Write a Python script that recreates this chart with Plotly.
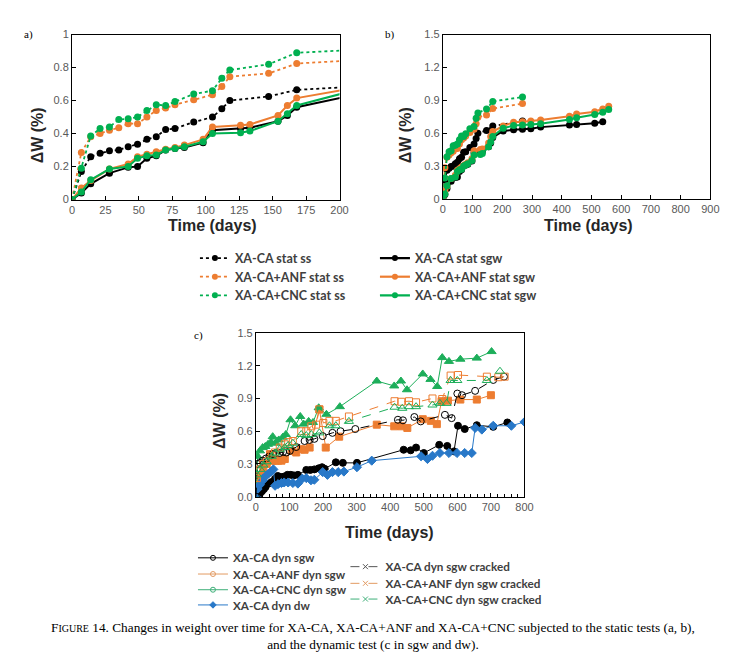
import plotly.graph_objects as go

W, H = 734, 653

# ---------------- static tests (panels a and b share the same data) ----------------
ss_days = [0, 7, 14, 21, 28, 35, 42, 49, 56, 63, 70, 77, 91, 105, 112, 118, 147, 168, 268]
xaca_stat_ss = [0, 0.17, 0.26, 0.28, 0.295, 0.30, 0.32, 0.335, 0.365, 0.38, 0.425, 0.43, 0.47, 0.50, 0.55, 0.60, 0.625, 0.665, 0.71]
anf_stat_ss = [0, 0.285, 0.38, 0.40, 0.42, 0.435, 0.46, 0.46, 0.50, 0.54, 0.555, 0.575, 0.605, 0.635, 0.685, 0.745, 0.765, 0.825, 0.87]
cnc_stat_ss = [0, 0.19, 0.385, 0.43, 0.44, 0.485, 0.49, 0.50, 0.54, 0.575, 0.57, 0.595, 0.64, 0.66, 0.735, 0.785, 0.82, 0.89, 0.93]

sgw_days = [0, 7, 14, 28, 42, 49, 56, 63, 70, 77, 84, 98, 105, 126, 133, 154, 161, 168,
            203, 238, 268, 296, 329, 426, 450, 511, 538, 558]
xaca_stat_sgw = [0, 0.04, 0.095, 0.16, 0.195, 0.20, 0.25, 0.265, 0.30, 0.31, 0.315, 0.345, 0.42, 0.43, 0.435, 0.475, 0.51, 0.56,
                 0.62, 0.63, 0.635, 0.64, 0.655, 0.675, 0.68, 0.69, 0.705]
anf_stat_sgw = [0, 0.07, 0.115, 0.185, 0.215, 0.26, 0.275, 0.29, 0.305, 0.315, 0.33, 0.365, 0.44, 0.45, 0.455, 0.51, 0.57, 0.615,
                0.665, 0.70, 0.705, 0.71, 0.72, 0.755, 0.775, 0.795, 0.82, 0.845]
cnc_stat_sgw = [0, 0.045, 0.12, 0.185, 0.20, 0.25, 0.265, 0.27, 0.30, 0.31, 0.32, 0.35, 0.40, 0.405, 0.415, 0.475, 0.52, 0.57,
                0.645, 0.67, 0.675, 0.68, 0.685, 0.725, 0.74, 0.77, 0.79, 0.815]

# ---------------- dynamic test (panel c) ----------------
xaca_dyn_sgw_days = [0, 6, 12, 18, 24, 29, 37, 47, 57, 65, 74, 84, 94, 104, 113, 125, 150, 162, 174, 187, 197, 205,
                     238, 259, 301, 440, 461, 477, 500, 546, 570, 590, 602, 622, 658, 707, 749]
xaca_dyn_sgw = [0, 0.015, 0.03, 0.05, 0.07, 0.09, 0.12, 0.135, 0.165, 0.19, 0.18, 0.185, 0.2, 0.2, 0.195, 0.2, 0.245, 0.245,
                0.25, 0.26, 0.27, 0.255, 0.315, 0.31, 0.31, 0.43, 0.425, 0.45, 0.40, 0.475, 0.465, 0.415, 0.65, 0.62, 0.655, 0.64, 0.68]

anf_dyn_sgw_days = [3, 13, 22, 32, 42, 50, 58, 66, 76, 86, 106, 120, 135, 145, 160, 189, 208, 248, 360, 412, 433, 451,
                    497, 521, 539, 553, 572, 609, 658, 700]
anf_dyn_sgw = [0.165, 0.195, 0.255, 0.30, 0.39, 0.33, 0.33, 0.33, 0.33, 0.345, 0.42, 0.405, 0.435, 0.43, 0.45, 0.80, 0.45,
               0.55, 0.66, 0.645, 0.645, 0.63, 0.71, 0.695, 0.665, 0.875, 0.88, 0.89, 0.89, 0.93]

cnc_dyn_sgw_days = [0, 5, 12, 20, 28, 36, 45, 50, 59, 68, 80, 89, 103, 117, 132, 142, 157, 170, 187, 210, 250, 360, 412,
                    432, 450, 497, 520, 540, 555, 575, 609, 658, 702]
cnc_dyn_sgw = [0, 0.37, 0.42, 0.45, 0.46, 0.48, 0.50, 0.55, 0.49, 0.52, 0.545, 0.57, 0.705, 0.65, 0.735, 0.665, 0.69, 0.68,
               0.815, 0.755, 0.825, 1.06, 1.015, 1.06, 0.98, 1.125, 1.075, 1.01, 1.275, 1.24, 1.26, 1.27, 1.33]

xaca_dyn_dw_days = [0, 5, 12, 21, 29, 37, 45, 52, 57, 66, 76, 84, 96, 110, 125, 138, 150, 164, 174, 199, 213, 228, 245,
                    262, 301, 345, 492, 511, 526, 548, 575, 599, 622, 643, 653, 673, 707, 761, 800]
xaca_dyn_dw = [0, 0.07, 0.11, 0.15, 0.19, 0.21, 0.23, 0.25, 0.10, 0.115, 0.125, 0.13, 0.13, 0.125, 0.12, 0.165, 0.17, 0.15,
               0.155, 0.225, 0.20, 0.225, 0.225, 0.23, 0.27, 0.33, 0.37, 0.345, 0.375, 0.40, 0.40, 0.40, 0.40, 0.40, 0.63,
               0.615, 0.65, 0.65, 0.685]

xaca_cr_days = [0, 5, 12, 20, 30, 40, 50, 60, 70, 81, 91, 101, 120, 145, 160, 174, 199, 228, 252, 296, 423, 438, 472, 491,
                563, 583, 600, 614, 653, 707, 739]
xaca_cr = [0, 0.30, 0.31, 0.33, 0.35, 0.37, 0.39, 0.40, 0.40, 0.41, 0.405, 0.42, 0.455, 0.51, 0.52, 0.53, 0.555, 0.585, 0.60,
           0.62, 0.705, 0.70, 0.73, 0.69, 0.75, 0.72, 0.945, 0.93, 0.97, 1.07, 1.10]

anf_cr_days = [3, 13, 22, 32, 47, 57, 71, 86, 96, 110, 135, 150, 165, 179, 189, 201, 219, 238, 277, 413, 433, 456, 477,
               526, 555, 580, 602, 688, 722, 741]
anf_cr = [0.17, 0.25, 0.30, 0.32, 0.375, 0.405, 0.45, 0.48, 0.50, 0.51, 0.60, 0.60, 0.645, 0.66, 0.80, 0.675, 0.695, 0.695,
          0.735, 0.875, 0.87, 0.875, 0.865, 0.90, 0.895, 1.11, 1.115, 1.10, 1.095, 1.10]

cnc_cr_days = [3, 13, 22, 32, 47, 57, 71, 86, 96, 110, 135, 150, 165, 189, 219, 238, 277, 413, 436, 456, 477, 526, 548,
               568, 580, 600, 688, 727]
cnc_cr = [0.2, 0.25, 0.29, 0.32, 0.37, 0.40, 0.435, 0.45, 0.47, 0.49, 0.57, 0.56, 0.57, 0.585, 0.65, 0.65, 0.69, 0.82,
          0.81, 0.825, 0.825, 0.84, 0.855, 0.855, 1.065, 1.065, 1.065, 1.15]

BLACK, ORANGE, GREEN, BLUE = "#000000", "#ED7D31", "#00B050", "#2878C8"
GREEN_C = "#1DAE5A"


def px(x):
    return x / W


def py(y):
    return 1 - y / H


fig = go.Figure()

# ---- panels a & b ----
static = [
    ("XA-CA stat ss", ss_days, xaca_stat_ss, BLACK, "dot"),
    ("XA-CA+ANF stat ss", ss_days, anf_stat_ss, ORANGE, "dot"),
    ("XA-CA+CNC stat ss", ss_days, cnc_stat_ss, GREEN, "dot"),
    ("XA-CA stat sgw", sgw_days, xaca_stat_sgw, BLACK, "solid"),
    ("XA-CA+ANF stat sgw", sgw_days, anf_stat_sgw, ORANGE, "solid"),
    ("XA-CA+CNC stat sgw", sgw_days, cnc_stat_sgw, GREEN, "solid"),
]
for ax in ("", "2"):
    for name, d, v, col, dash in static:
        fig.add_trace(go.Scatter(
            x=d[:len(v)], y=v, mode="lines+markers", name=name, showlegend=False,
            line=dict(color=col, width=1.8 if dash == "dot" else 2.0, dash=dash),
            marker=dict(symbol="circle", size=7, color=col),
            xaxis="x" + ax, yaxis="y" + ax))

# ---- panel c ----
dyn = [
    (xaca_dyn_sgw_days, xaca_dyn_sgw, BLACK, "circle", "solid"),
    (anf_dyn_sgw_days, anf_dyn_sgw, ORANGE, "square", "solid"),
    (cnc_dyn_sgw_days, cnc_dyn_sgw, GREEN_C, "triangle-up", "solid"),
    (xaca_dyn_dw_days, xaca_dyn_dw, BLUE, "diamond", "solid"),
    (xaca_cr_days, xaca_cr, BLACK, "circle-open", "dash"),
    (anf_cr_days, anf_cr, ORANGE, "square-open", "dash"),
    (cnc_cr_days, cnc_cr, GREEN_C, "triangle-up-open", "dash"),
]
for d, v, col, sym, dash in dyn:
    fig.add_trace(go.Scatter(
        x=d, y=v, mode="lines+markers", showlegend=False,
        line=dict(color=col, width=1, dash=dash),
        marker=dict(symbol=sym, size=7 if "triangle" not in sym else 8, color=col, line=dict(color=col, width=1)),
        xaxis="x3", yaxis="y3"))

# ---- legends (one legend per entry, placed like the original) ----
legend_font_ab = dict(family="Lato", size=12.5, color="#404040", weight="bold")
legend_font_c = dict(family="Lato", size=11.7, color="#404040", weight="bold")
leg_layout = {}
entries_ab = [
    ("XA-CA stat ss", BLACK, "dot", 187, 249),
    ("XA-CA+ANF stat ss", ORANGE, "dot", 187, 268),
    ("XA-CA+CNC stat ss", GREEN, "dot", 187, 287),
    ("XA-CA stat sgw", BLACK, "solid", 370, 249),
    ("XA-CA+ANF stat sgw", ORANGE, "solid", 370, 268),
    ("XA-CA+CNC stat sgw", GREEN, "solid", 370, 287),
]
entries_c = [
    ("XA-CA dyn sgw", BLACK, "solid", "circle-open", 185, 554),
    ("XA-CA+ANF dyn sgw", "#E29A62", "solid", "circle-open", 185, 570.5),
    ("XA-CA+CNC dyn sgw", "#3DAF78", "solid", "circle-open", 185, 586.5),
    ("XA-CA dyn dw", BLUE, "solid", "diamond", 185, 602),
    ("XA-CA dyn sgw cracked", "#555555", "dash", "x-thin-open", 340, 563),
    ("XA-CA+ANF dyn sgw cracked", "#E29A62", "dash", "x-thin-open", 340, 580),
    ("XA-CA+CNC dyn sgw cracked", "#3DAF78", "dash", "x-thin-open", 340, 596),
]
k = 1
for name, col, dash, x0, y0 in entries_ab:
    lname = "legend" if k == 1 else f"legend{k}"
    fig.add_trace(go.Scatter(
        x=[None], y=[None], mode="lines+markers", name=name, legend=lname,
        line=dict(color=col, width=1.8 if dash == "dot" else 2.2, dash=dash),
        marker=dict(symbol="circle", size=6, color=col), xaxis="x", yaxis="y"))
    leg_layout[lname] = dict(x=px(x0), y=py(y0), xanchor="left", yanchor="middle",
                             bgcolor="rgba(0,0,0,0)", font=legend_font_ab)
    k += 1
for name, col, dash, sym, x0, y0 in entries_c:
    lname = f"legend{k}"
    fig.add_trace(go.Scatter(
        x=[None], y=[None], mode="lines+markers", name=name, legend=lname,
        line=dict(color=col, width=1, dash=dash),
        marker=dict(symbol=sym, size=5, color=col, line=dict(color=col, width=1)),
        xaxis="x3", yaxis="y3"))
    leg_layout[lname] = dict(x=px(x0), y=py(y0), xanchor="left", yanchor="middle",
                             bgcolor="rgba(0,0,0,0)", font=legend_font_c)
    k += 1

tickfont = dict(family="Liberation Sans", size=11, color="#595959")
axis_common = dict(showline=True, linecolor="black", linewidth=1, mirror=True, ticks="inside",
                   ticklen=4, tickcolor="black", showgrid=False, zeroline=False, tickfont=tickfont)

fig.update_layout(
    width=W, height=H, autosize=False,
    margin=dict(l=0, r=0, t=0, b=0),
    paper_bgcolor="white", plot_bgcolor="white",
    xaxis=dict(domain=[px(62), px(334)], range=[0, 200], dtick=25, tick0=0, anchor="y", **axis_common),
    yaxis=dict(domain=[py(189), py(21)], range=[0, 1], dtick=0.2, tick0=0, anchor="x", **axis_common),
    xaxis2=dict(domain=[px(439), px(711)], range=[0, 900], dtick=100, tick0=0, anchor="y2", **axis_common),
    yaxis2=dict(domain=[py(188.3), py(21)], range=[0, 1.5], dtick=0.3, tick0=0, anchor="x2", **axis_common),
    xaxis3=dict(domain=[px(249), px(522)], range=[0, 800], dtick=100, tick0=0, anchor="y3",
                minor=dict(dtick=20, ticks="inside", ticklen=3, tickcolor="black"), **axis_common),
    yaxis3=dict(domain=[py(491.7), py(325)], range=[0, 1.5], dtick=0.3, tick0=0, tickformat=".1f",
                anchor="x3", **axis_common),
    **leg_layout,
)

title_font = dict(family="Liberation Sans", size=16, color="#262626")
ann = []
for txt, x0, y0 in [("Time (days)", 205, 215), ("Time (days)", 587, 215), ("Time (days)", 385, 528)]:
    ann.append(dict(text="<b>" + txt + "</b>", x=px(x0), y=py(y0), xref="paper", yref="paper",
                    showarrow=False, font=title_font, xanchor="center", yanchor="middle"))
for x0, y0 in [(27, 124), (401, 123), (212, 415)]:
    ann.append(dict(text="<b>ΔW (%)</b>", x=px(x0), y=py(y0), xref="paper", yref="paper", textangle=-90,
                    showarrow=False, font=title_font, xanchor="center", yanchor="middle"))
for txt, x0, y0 in [("a)", 18, 21), ("b)", 385, 21), ("c)", 191, 328)]:
    ann.append(dict(text=txt, x=px(x0), y=py(y0), xref="paper", yref="paper", showarrow=False,
                    font=dict(family="Liberation Serif", size=11, color="black"), xanchor="center", yanchor="middle"))
caption = ("F<span style='font-size:10px'>IGURE</span> 14. Changes in weight over time for XA-CA, XA-CA+ANF and "
           "XA-CA+CNC subjected to the static tests (a, b),<br>and the dynamic test (c in sgw and dw).")
ann.append(dict(text=caption, x=px(368), y=py(634), xref="paper", yref="paper", showarrow=False, align="center",
                font=dict(family="Liberation Serif", size=13.3, color="black"), xanchor="center", yanchor="middle"))
fig.update_layout(annotations=ann)

fig.write_html("out.html")
